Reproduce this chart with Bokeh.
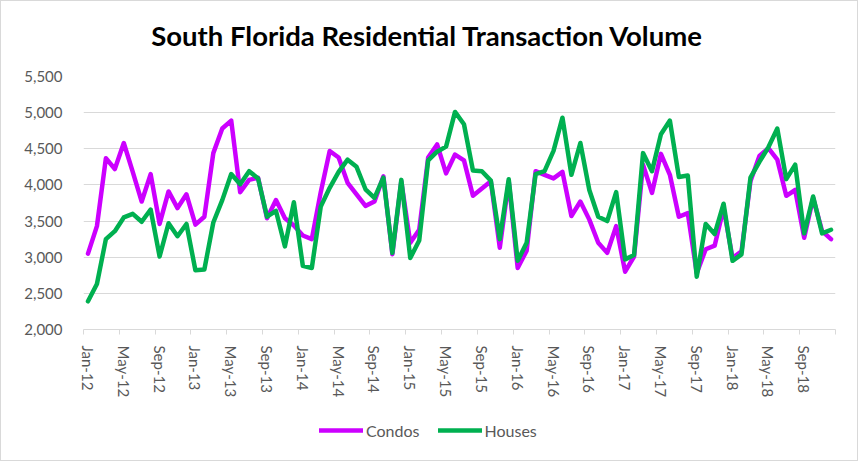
from bokeh.plotting import figure
from bokeh.layouts import column
from bokeh.models import (Range1d, FixedTicker, NumeralTickFormatter, Legend, LegendItem,
                          ColumnDataSource, Label)
from bokeh.embed import file_html
from bokeh.resources import INLINE

# ---------------- data ----------------
title_text = "South Florida Residential Transaction Volume"
series_names = ["Condos", "Houses"]
series_colors = ["#CC00FF", "#00B050"]

# monthly, Jan-12 .. Dec-18 (84 months)
condos = [3050, 3430, 4370, 4220, 4580, 4180, 3770, 4150, 3460, 3910, 3680, 3870,
          3450, 3560, 4440, 4780, 4890, 3900, 4070, 4100, 3540, 3790, 3540, 3440,
          3300, 3250, 3900, 4470, 4380, 4030, 3870, 3710, 3770, 4120, 3040, 4050,
          3200, 3380, 4380, 4560, 4160, 4420, 4340, 3850, 3950, 4050, 3130, 4050,
          2850, 3090, 4190, 4140, 4090, 4180, 3570, 3770, 3520, 3200, 3060, 3430,
          2800, 3010, 4280, 3890, 4430, 4140, 3560, 3610, 2780, 3110, 3160, 3680,
          2990, 3080, 4050, 4400, 4510, 4350, 3850, 3930, 3270, 3820, 3360, 3250]
houses = [2390, 2630, 3250, 3360, 3550, 3600, 3490, 3660, 3010, 3470, 3290, 3460,
          2820, 2830, 3480, 3790, 4150, 4010, 4190, 4090, 3560, 3640, 3150, 3760,
          2880, 2850, 3700, 3960, 4180, 4350, 4250, 3940, 3820, 4100, 3060, 4070,
          2990, 3230, 4340, 4460, 4530, 5010, 4840, 4200, 4190, 4060, 3250, 4080,
          2950, 3200, 4150, 4190, 4470, 4930, 4140, 4580, 3930, 3560, 3500, 3900,
          2970, 3030, 4440, 4190, 4700, 4890, 4110, 4130, 2730, 3460, 3320, 3740,
          2950, 3040, 4100, 4320, 4520, 4780, 4080, 4280, 3330, 3840, 3330, 3380]
x_tick_labels = ["Jan-12", "May-12", "Sep-12", "Jan-13", "May-13", "Sep-13", "Jan-14",
                 "May-14", "Sep-14", "Jan-15", "May-15", "Sep-15", "Jan-16", "May-16",
                 "Sep-16", "Jan-17", "May-17", "Sep-17", "Jan-18", "May-18", "Sep-18"]
y_ticks = [2000, 2500, 3000, 3500, 4000, 4500, 5000, 5500]

n = len(condos)
idx = list(range(n))
label_step = 4

src = ColumnDataSource(dict(x=idx, condos=condos, houses=houses))

W = 858                       # + 1px CSS border left/right = 860
H0, H1, H2 = 61, 343, 57      # + 1px top border (title strip) + 1px bottom border (legend strip) = 463
ML, MR, MT, MB = 82, 24, 15, 75
FONT = "Lato"
GRID = "#d9d9d9"
TXT = "#595959"
BORDER = "1px solid #d9d9d9"


def strip(height, styles):
    f = figure(width=W, height=height, output_backend="svg", toolbar_location=None,
               x_range=Range1d(0, 1), y_range=Range1d(0, 1),
               min_border=0, min_border_top=0, min_border_bottom=0)
    f.styles = styles
    f.axis.visible = False
    f.grid.visible = False
    f.outline_line_color = None
    f.border_fill_color = "white"
    return f


# ---- title strip ----
p0 = strip(H0, {"border-left": BORDER, "border-right": BORDER, "border-top": BORDER})
p0.add_layout(Label(x=344, y=27, x_units="screen", y_units="screen", text=title_text,
                    text_align="center", text_baseline="middle", text_font=FONT,
                    text_font_style="bold", text_font_size="27.5px", text_color="black"))

# ---- main chart ----
p = figure(width=W, height=H1, output_backend="svg", toolbar_location=None,
           x_range=Range1d(-0.5, n - 0.5), y_range=Range1d(y_ticks[0], y_ticks[-1]),
           min_border_left=ML, min_border_right=MR, min_border_top=MT, min_border_bottom=MB)
p.styles = {"border-left": BORDER, "border-right": BORDER}
p.outline_line_color = None
p.background_fill_color = "white"
p.border_fill_color = "white"

# grid
p.xgrid.visible = False
p.ygrid.grid_line_color = GRID
p.ygrid.grid_line_width = 1
p.ygrid.ticker = FixedTicker(ticks=y_ticks)

# y axis
yax = p.yaxis[0]
yax.ticker = FixedTicker(ticks=y_ticks)
yax.formatter = NumeralTickFormatter(format="0,0")
yax.axis_line_color = None
yax.major_tick_line_color = None
yax.minor_tick_line_color = None
yax.major_tick_out = 0
yax.major_tick_in = 0
yax.major_label_standoff = 21
yax.major_label_text_font = FONT
yax.major_label_text_font_size = "15px"
yax.major_label_text_color = TXT

# x axis
xax = p.xaxis[0]
major = list(range(0, n, label_step))
minor = [m - 0.5 for m in range(0, n + 1, label_step)]
xax.ticker = FixedTicker(ticks=major, minor_ticks=minor)
xax.major_label_overrides = {m: x_tick_labels[k] for k, m in enumerate(major)}
xax.major_label_orientation = "vertical"
xax.axis_line_color = GRID
xax.axis_line_width = 1
xax.major_tick_line_color = None
xax.major_tick_out = 0
xax.major_tick_in = 0
xax.minor_tick_line_color = GRID
xax.minor_tick_out = 5
xax.minor_tick_in = 0
xax.major_label_standoff = 11
xax.major_label_text_font = FONT
xax.major_label_text_font_size = "15px"
xax.major_label_text_color = TXT

# lines (houses drawn over condos)
line_kw = dict(line_width=4.5, line_join="round", line_cap="round")
p.line("x", "condos", source=src, line_color=series_colors[0], **line_kw)
p.line("x", "houses", source=src, line_color=series_colors[1], **line_kw)

# ---- legend strip ----
p2 = strip(H2, {"border-left": BORDER, "border-right": BORDER, "border-bottom": BORDER})
# same series, outside this strip's range: only their legend swatches show
l_c = p2.line("x", "condos", source=src, line_color=series_colors[0], **line_kw)
l_h = p2.line("x", "houses", source=src, line_color=series_colors[1], **line_kw)

legend = Legend(items=[LegendItem(label=series_names[0], renderers=[l_c]),
                       LegendItem(label=series_names[1], renderers=[l_h])],
                orientation="horizontal", location=(236, 21),
                glyph_width=44, glyph_height=20, label_standoff=3, spacing=18,
                padding=0, margin=0, border_line_color=None, background_fill_alpha=0,
                label_text_font=FONT, label_text_font_size="16px", label_text_color=TXT)
p2.add_layout(legend, "center")

layout = column(p0, p, p2, spacing=0)

open("out.html", "w").write(file_html(layout, INLINE))
